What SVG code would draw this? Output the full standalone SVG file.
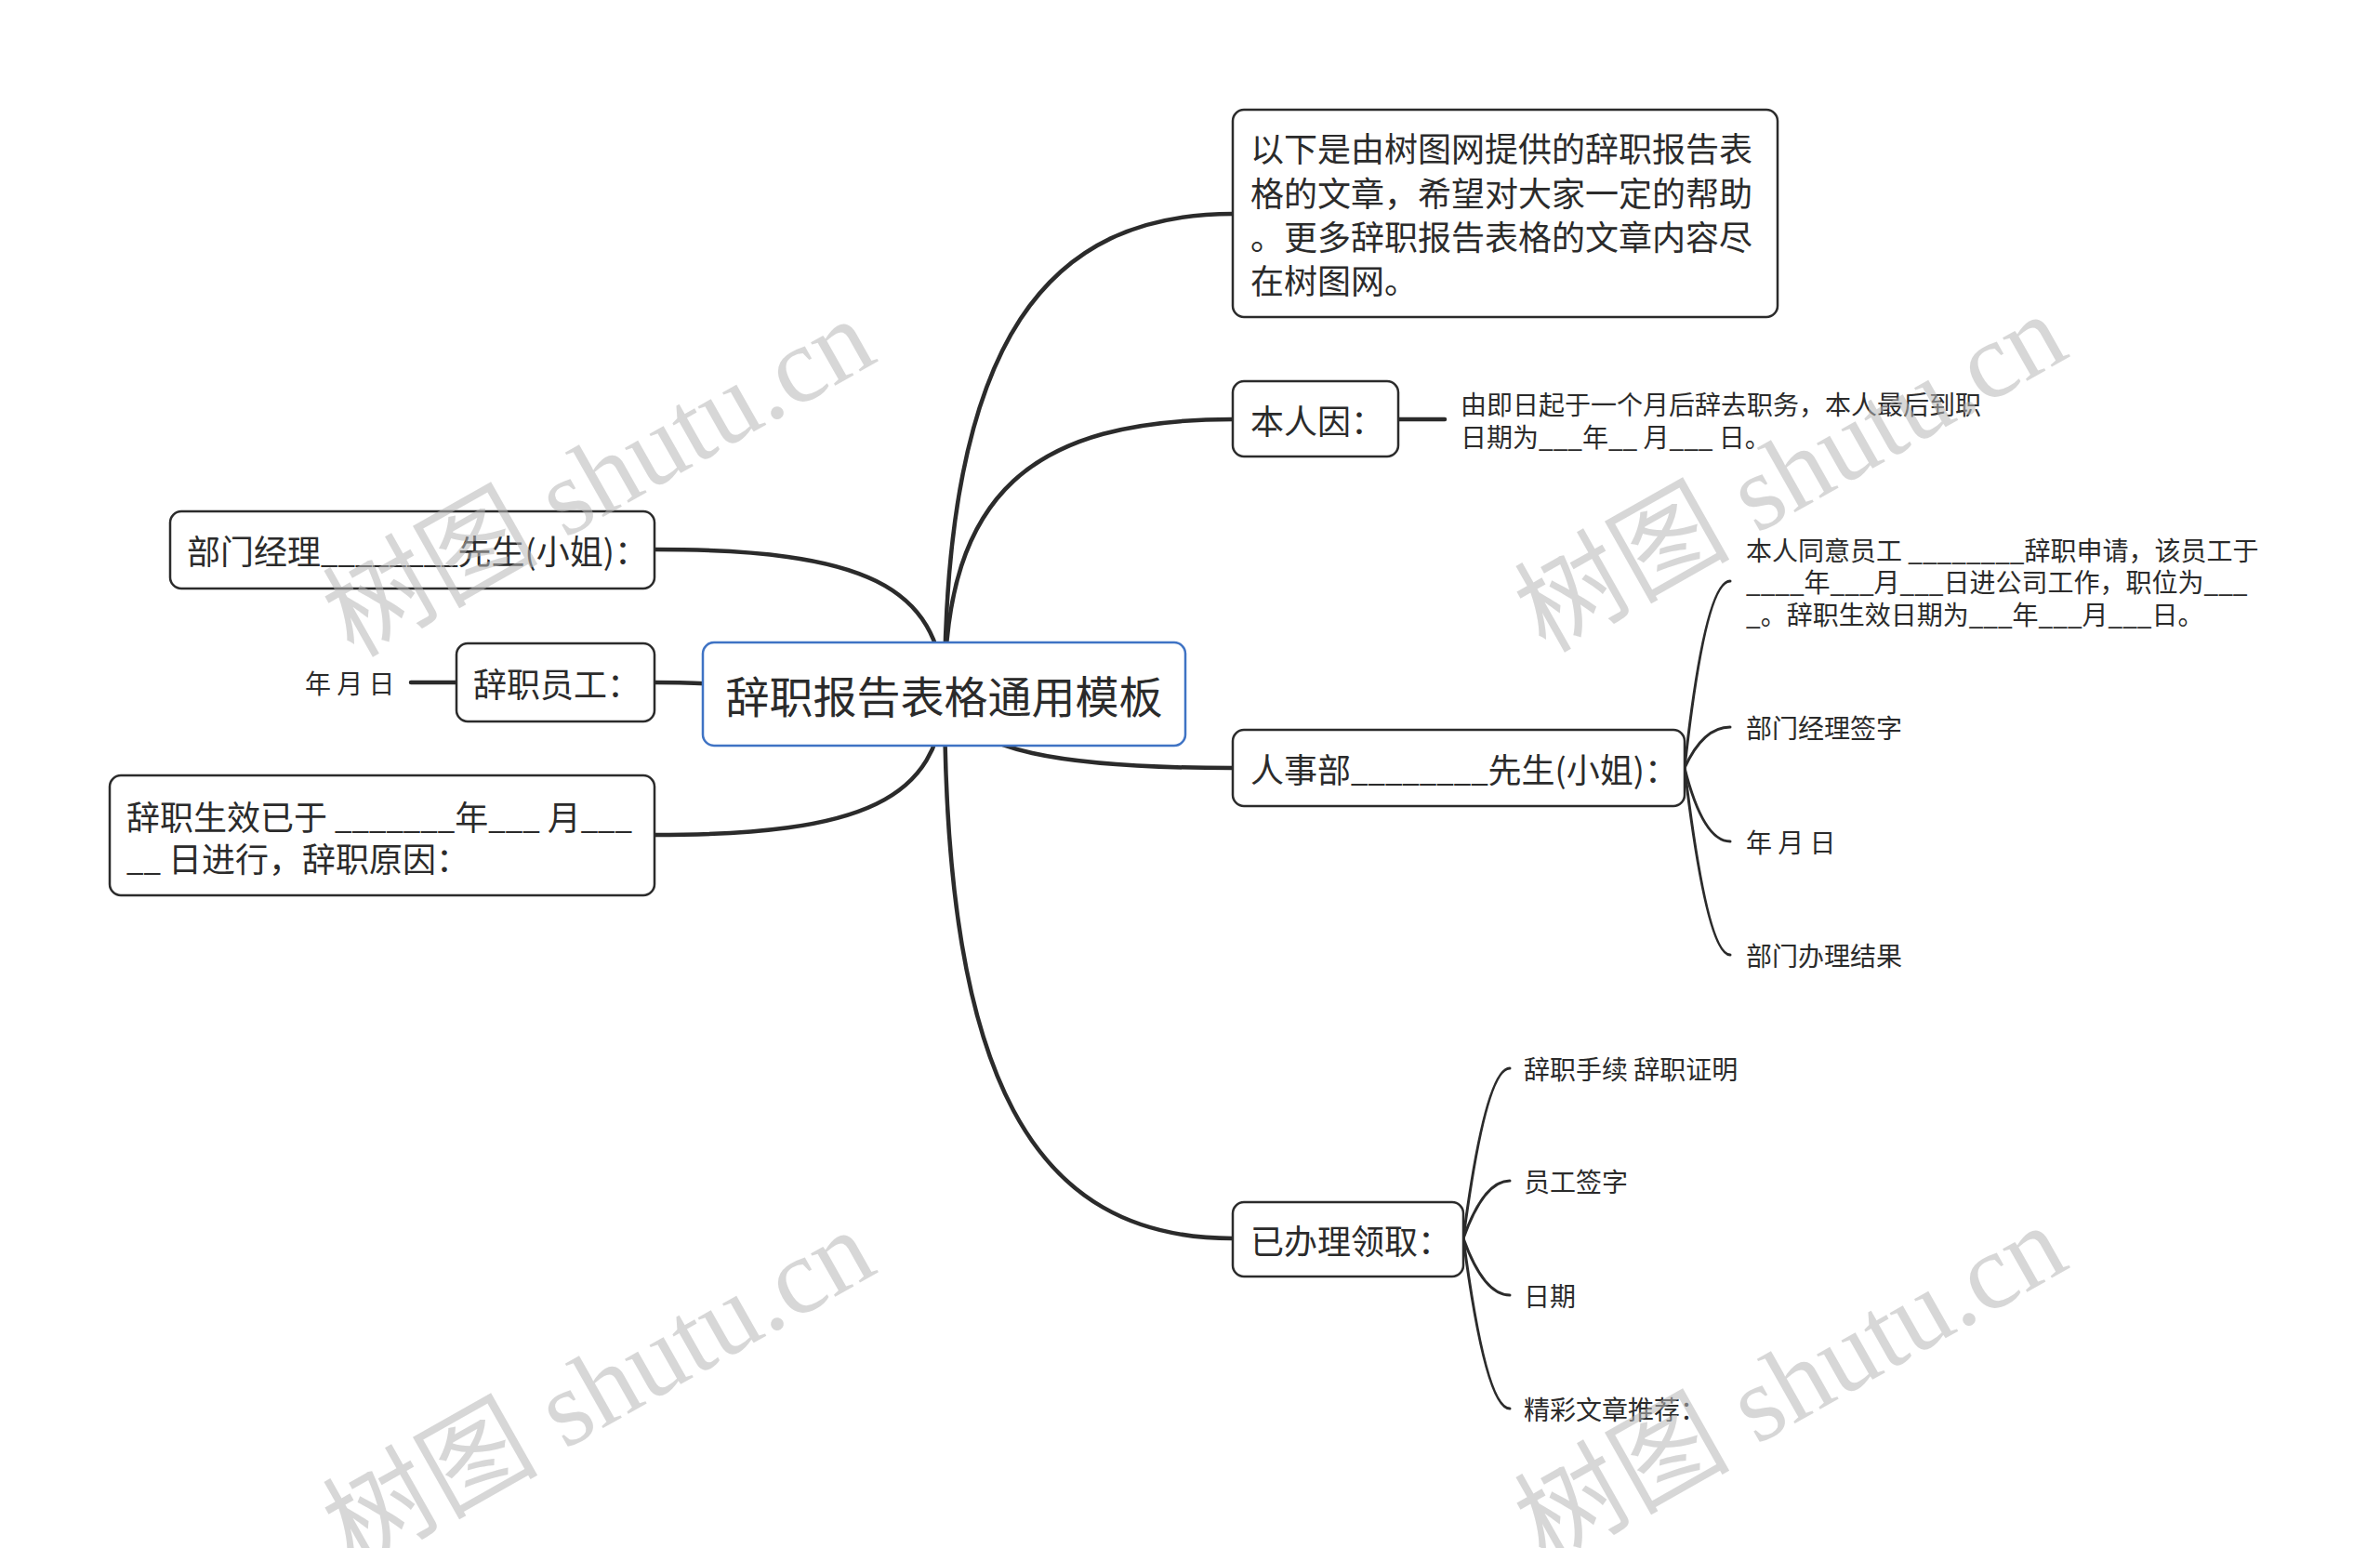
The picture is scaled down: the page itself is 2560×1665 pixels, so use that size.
<svg xmlns="http://www.w3.org/2000/svg" width="2560" height="1665" viewBox="0 0 2560 1665">
<style>
.box{fill:#ffffff;stroke:#2b2b2b;stroke-width:2.5}
.root{fill:#ffffff;stroke:#3f73c4;stroke-width:2.5}
.t{font-family:"Noto Sans CJK SC","Noto Sans",sans-serif;fill:#2b2b2b;dominant-baseline:central}
.n{font-size:36px}
.s{font-size:28px}
.u{font-size:33px}
.main{fill:none;stroke:#2b2b2b;stroke-width:4.5;stroke-linecap:round}
.sub{fill:none;stroke:#2b2b2b;stroke-width:3;stroke-linecap:round}
.wm{font-family:"Liberation Serif","Noto Sans CJK SC",serif;font-size:116px;fill:#b8b8b8;opacity:0.55}
</style>
<rect width="2560" height="1665" fill="#ffffff"/>
<g id="connectors">
<path class="main" d="M1016 746 C1016 360 1130 230 1326 230"/>
<path class="main" d="M1016 746 C1016 530 1110 451 1326 451"/>
<path class="main" d="M1016 746 C1030 810 1150 826 1326 826"/>
<path class="main" d="M1016 746 C1016 1160 1110 1332 1326 1332"/>
<path class="main" d="M1016 746 C1010 630 930 591 704 591"/>
<path class="main" d="M1016 746 C900 746 800 734 704 734"/>
<path class="main" d="M1016 746 C1010 860 930 898 704 898"/>
<path class="main" d="M1504 451 L1554 451"/>
<path class="main" d="M491 734 L442 734"/>
<path class="sub" d="M1812 826 Q1834 625 1861 625"/>
<path class="sub" d="M1812 826 Q1832 782 1861 782"/>
<path class="sub" d="M1812 826 Q1832 905 1861 905"/>
<path class="sub" d="M1812 826 Q1836 1027 1861 1027"/>
<path class="sub" d="M1574 1332 Q1598 1149 1624 1149"/>
<path class="sub" d="M1574 1332 Q1596 1270 1624 1270"/>
<path class="sub" d="M1574 1332 Q1596 1393 1624 1393"/>
<path class="sub" d="M1574 1332 Q1598 1515 1624 1515"/>
</g>
<g id="root">
<rect class="root" x="756" y="691" width="519" height="111" rx="12"/>
<text class="t" x="1015.5" y="746" font-size="47" text-anchor="middle">辞职报告表格通用模板</text>
</g>
<g id="intro">
<rect class="box" x="1326" y="118" width="586" height="223" rx="12"/>
<text class="t n" x="1345" y="158">以下是由树图网提供的辞职报告表</text>
<text class="t n" x="1345" y="206">格的文章，希望对大家一定的帮助</text>
<text class="t n" x="1345" y="253">。更多辞职报告表格的文章内容尽</text>
<text class="t n" x="1345" y="300">在树图网。</text>
</g>
<g id="benren">
<rect class="box" x="1326" y="410" width="178" height="81" rx="12"/>
<text class="t n" x="1345" y="451">本人因：</text>
</g>
<g id="benren-detail">
<text class="t s" x="1571" y="434">由即日起于一个月后辞去职务，本人最后到职</text>
<text class="t s" x="1571" y="469">日期为___年__ 月___ 日。</text>
</g>
<g id="renshi">
<rect class="box" x="1326" y="785" width="486" height="82" rx="12"/>
<text class="t n" x="1345" y="826">人事部<tspan class="u">________</tspan>先生(小姐)：</text>
</g>
<g id="renshi-agree">
<text class="t s" x="1878" y="591">本人同意员工 ________辞职申请，该员工于</text>
<text class="t s" x="1878" y="625">____年___月___日进公司工作，职位为___</text>
<text class="t s" x="1878" y="660">_。辞职生效日期为___年___月___日。</text>
</g>
<g id="renshi-sign"><text class="t s" x="1878" y="782">部门经理签字</text></g>
<g id="renshi-date"><text class="t s" x="1878" y="905">年 月 日</text></g>
<g id="renshi-result"><text class="t s" x="1878" y="1027">部门办理结果</text></g>
<g id="yiban">
<rect class="box" x="1326" y="1293" width="248" height="80" rx="12"/>
<text class="t n" x="1345" y="1333">已办理领取：</text>
</g>
<g id="yiban-1"><text class="t s" x="1639" y="1149">辞职手续 辞职证明</text></g>
<g id="yiban-2"><text class="t s" x="1639" y="1270">员工签字</text></g>
<g id="yiban-3"><text class="t s" x="1639" y="1393">日期</text></g>
<g id="yiban-4"><text class="t s" x="1639" y="1515">精彩文章推荐：</text></g>
<g id="manager">
<rect class="box" x="183" y="550" width="521" height="83" rx="12"/>
<text class="t n" x="201" y="591">部门经理<tspan class="u">________</tspan>先生(小姐)：</text>
</g>
<g id="employee">
<rect class="box" x="491" y="692" width="213" height="84" rx="12"/>
<text class="t n" x="509" y="734">辞职员工：</text>
</g>
<g id="employee-date"><text class="t s" x="328" y="734">年 月 日</text></g>
<g id="effective">
<rect class="box" x="118" y="834" width="586" height="129" rx="12"/>
<text class="t n" x="136" y="877">辞职生效已于 <tspan class="u">_______</tspan>年<tspan class="u">___</tspan> 月<tspan class="u">___</tspan></text>
<text class="t n" x="136" y="922"><tspan class="u">__</tspan> 日进行，辞职原因：</text>
</g>
<g id="watermarks">
<text class="wm" transform="translate(380 708) rotate(-29.5)">树图 shutu.cn</text>
<text class="wm" transform="translate(1662 703) rotate(-29.5)">树图 shutu.cn</text>
<text class="wm" transform="translate(380 1688) rotate(-29.5)">树图 shutu.cn</text>
<text class="wm" transform="translate(1662 1683) rotate(-29.5)">树图 shutu.cn</text>
</g>
</svg>
